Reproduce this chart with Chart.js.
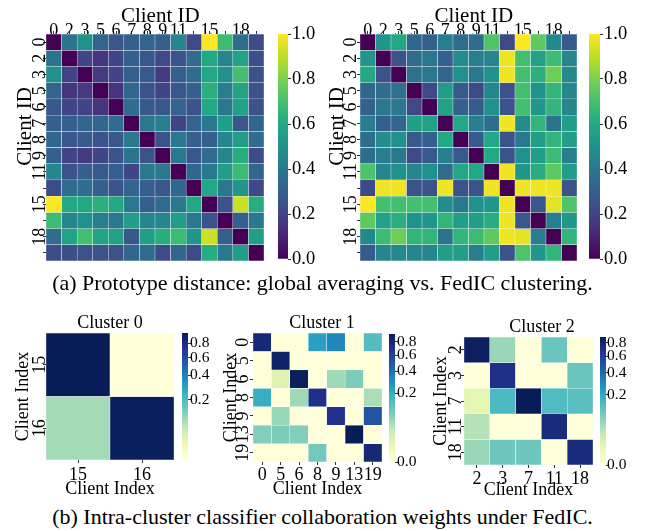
<!DOCTYPE html>
<html>
<head>
<meta charset="utf-8">
<script src="https://cdn.jsdelivr.net/npm/chart.js@4.4.0/dist/chart.umd.min.js"></script>
<style>
  body { margin: 0; background: #fff; }
  #fig { position: relative; width: 645px; height: 531px; overflow: hidden; background: #fff; font-family: 'Liberation Serif', serif; }
  canvas { position: absolute; }
  .cap { position: absolute; left: 0; width: 645px; text-align: center; font-size: 22px; line-height: 26px; white-space: nowrap; color: #000; }
</style>
</head>
<body>
<div id="fig">
  <canvas id="hmGlobal"></canvas>
  <canvas id="cbGlobal"></canvas>
  <canvas id="hmFedic"></canvas>
  <canvas id="cbFedic"></canvas>
  <canvas id="hmC0"></canvas>
  <canvas id="cbC0"></canvas>
  <canvas id="hmC1"></canvas>
  <canvas id="cbC1"></canvas>
  <canvas id="hmC2"></canvas>
  <canvas id="cbC2"></canvas>
  <div class="cap" style="top:270px">(a) Prototype distance: global averaging vs. FedIC clustering.</div>
  <div class="cap" style="top:504px">(b) Intra-cluster classifier collaboration weights under FedIC.</div>
</div>
<script>
// clients in the prototype distance maps (seaborn only printed some of the labels)
const clientIds = ['0', '2', '3', '5', '6', '7', '8', '9', '11', '13', '15', '16', '18', '19'];
const clientTicks = ['0', '2', '3', '5', '6', '7', '8', '9', '11', '', '15', '', '18', ''];

// (a) left: global averaging
const globalDist = [
  [0.00, 0.38, 0.50, 0.32, 0.27, 0.30, 0.32, 0.30, 0.46, 0.22, 1.00, 0.68, 0.35, 0.23],
  [0.38, 0.00, 0.20, 0.15, 0.20, 0.30, 0.27, 0.22, 0.25, 0.35, 0.60, 0.45, 0.58, 0.24],
  [0.50, 0.20, 0.00, 0.17, 0.20, 0.30, 0.28, 0.17, 0.30, 0.35, 0.60, 0.50, 0.70, 0.25],
  [0.32, 0.15, 0.17, 0.00, 0.15, 0.33, 0.25, 0.20, 0.27, 0.30, 0.63, 0.42, 0.58, 0.25],
  [0.27, 0.20, 0.20, 0.15, 0.00, 0.35, 0.27, 0.27, 0.32, 0.25, 0.60, 0.40, 0.57, 0.25],
  [0.30, 0.30, 0.32, 0.33, 0.35, 0.00, 0.40, 0.42, 0.20, 0.32, 0.40, 0.55, 0.27, 0.33],
  [0.33, 0.27, 0.28, 0.25, 0.27, 0.40, 0.00, 0.25, 0.40, 0.30, 0.30, 0.45, 0.55, 0.35],
  [0.30, 0.20, 0.17, 0.20, 0.25, 0.38, 0.25, 0.00, 0.40, 0.27, 0.35, 0.45, 0.62, 0.23],
  [0.46, 0.25, 0.30, 0.28, 0.30, 0.20, 0.40, 0.40, 0.00, 0.33, 0.40, 0.55, 0.68, 0.33],
  [0.23, 0.35, 0.35, 0.30, 0.25, 0.32, 0.30, 0.27, 0.33, 0.00, 0.60, 0.40, 0.52, 0.22],
  [1.00, 0.60, 0.60, 0.63, 0.60, 0.40, 0.30, 0.35, 0.40, 0.60, 0.00, 0.25, 0.92, 0.62],
  [0.68, 0.45, 0.50, 0.42, 0.40, 0.55, 0.45, 0.45, 0.55, 0.40, 0.25, 0.00, 0.30, 0.40],
  [0.35, 0.58, 0.70, 0.58, 0.57, 0.27, 0.55, 0.62, 0.68, 0.52, 0.92, 0.30, 0.00, 0.55],
  [0.23, 0.24, 0.25, 0.25, 0.25, 0.33, 0.35, 0.23, 0.33, 0.22, 0.62, 0.40, 0.55, 0.00]
];

// (a) right: FedIC clustering
const fedicDist = [
  [0.00, 0.52, 0.60, 0.33, 0.30, 0.42, 0.35, 0.35, 0.72, 0.22, 1.00, 0.75, 0.47, 0.28],
  [0.52, 0.00, 0.25, 0.35, 0.40, 0.30, 0.48, 0.42, 0.45, 0.98, 0.70, 0.57, 0.68, 0.45],
  [0.60, 0.25, 0.00, 0.37, 0.40, 0.32, 0.50, 0.40, 0.50, 0.98, 0.70, 0.63, 0.78, 0.47],
  [0.33, 0.35, 0.37, 0.00, 0.22, 0.55, 0.28, 0.22, 0.45, 0.25, 0.70, 0.50, 0.65, 0.45],
  [0.30, 0.40, 0.40, 0.22, 0.00, 0.57, 0.30, 0.28, 0.50, 0.25, 0.70, 0.52, 0.65, 0.45],
  [0.42, 0.30, 0.32, 0.55, 0.57, 0.00, 0.60, 0.42, 0.35, 0.98, 0.48, 0.65, 0.38, 0.55],
  [0.35, 0.48, 0.50, 0.28, 0.30, 0.60, 0.00, 0.28, 0.60, 0.25, 0.40, 0.55, 0.65, 0.55],
  [0.35, 0.42, 0.40, 0.22, 0.28, 0.42, 0.28, 0.00, 0.60, 0.25, 0.50, 0.55, 0.68, 0.42],
  [0.72, 0.45, 0.50, 0.45, 0.50, 0.35, 0.60, 0.60, 0.00, 0.98, 0.52, 0.62, 0.75, 0.55],
  [0.22, 0.98, 0.98, 0.25, 0.25, 0.98, 0.25, 0.25, 0.98, 0.00, 0.98, 0.98, 0.98, 0.25],
  [1.00, 0.70, 0.70, 0.70, 0.70, 0.48, 0.40, 0.50, 0.52, 0.98, 0.00, 0.27, 0.96, 0.72],
  [0.75, 0.57, 0.63, 0.50, 0.52, 0.65, 0.55, 0.55, 0.62, 0.98, 0.27, 0.00, 0.42, 0.52],
  [0.47, 0.68, 0.78, 0.65, 0.65, 0.38, 0.65, 0.68, 0.75, 0.98, 0.96, 0.42, 0.00, 0.65],
  [0.28, 0.45, 0.47, 0.45, 0.45, 0.55, 0.55, 0.42, 0.55, 0.25, 0.72, 0.52, 0.65, 0.00]
];

// (b) collaboration weights per cluster
const cluster0Ids = ['15', '16'];
const cluster0W = [
  [0.96, 0.005],
  [0.094, 0.94]
];
const cluster1Ids = ['0', '5', '6', '8', '9', '13', '19'];
const cluster1W = [
  [0.80, 0.00, 0.00, 0.24, 0.32, 0.00, 0.135],
  [0.00, 0.87, 0.00, 0.00, 0.00, 0.00, 0.00],
  [0.00, 0.011, 0.92, 0.00, 0.054, 0.084, 0.00],
  [0.19, 0.00, 0.054, 0.72, 0.00, 0.00, 0.046],
  [0.00, 0.059, 0.00, 0.00, 0.70, 0.00, 0.505],
  [0.078, 0.084, 0.078, 0.00, 0.00, 0.94, 0.00],
  [0.00, 0.00, 0.00, 0.095, 0.00, 0.00, 0.80]
];
const cluster2Ids = ['2', '3', '7', '11', '18'];
const cluster2W = [
  [0.86, 0.056, 0.00, 0.103, 0.00],
  [0.00, 0.69, 0.00, 0.00, 0.103],
  [0.008, 0.144, 0.90, 0.136, 0.122],
  [0.037, 0.00, 0.00, 0.75, 0.00],
  [0.056, 0.097, 0.097, 0.00, 0.75]
];

const distTicks = [0.0, 0.2, 0.4, 0.6, 0.8, 1.0];
const weightTicks = [0.0, 0.2, 0.4, 0.6, 0.8];

// colormaps
const VIRIDIS = ['#440154', '#482475', '#414487', '#355f8d', '#2a788e', '#21918c', '#22a884', '#44bf70', '#7ad151', '#bddf26', '#fde725'];
const YLGNBU = ['#ffffd9', '#edf8b1', '#c7e9b4', '#7fcdbb', '#41b6c4', '#1d91c0', '#225ea8', '#253494', '#081d58'];
const GAMMA = 0.4; // power norm of the weight maps

Chart.defaults.font.family = "'Liberation Serif', 'Times New Roman', serif";
Chart.defaults.color = '#000';

function hex2rgb(h) {
  return [parseInt(h.slice(1, 3), 16), parseInt(h.slice(3, 5), 16), parseInt(h.slice(5, 7), 16)];
}
function cmap(stops, f) {
  f = Math.min(1, Math.max(0, f));
  const p = f * (stops.length - 1);
  const i = Math.min(stops.length - 2, Math.floor(p));
  const a = hex2rgb(stops[i]), b = hex2rgb(stops[i + 1]);
  const k = p - i;
  const c = a.map((v, j) => Math.round(v + (b[j] - v) * k));
  return 'rgb(' + c.join(',') + ')';
}

function flat(m) { return m.reduce((a, r) => a.concat(r), []); }

function sizeCanvas(id, box, pad) {
  const cv = document.getElementById(id);
  const W = box.w + pad.l + pad.r, H = box.h + pad.t + pad.b;
  cv.width = W; cv.height = H;
  cv.style.left = (box.x - pad.l) + 'px';
  cv.style.top = (box.y - pad.t) + 'px';
  cv.style.width = W + 'px';
  cv.style.height = H + 'px';
  return cv;
}

function zeroPad(s) {
  s.paddingTop = 0; s.paddingBottom = 0; s.paddingLeft = 0; s.paddingRight = 0;
}

function heatmap(id, o) {
  const cv = sizeCanvas(id, o.box, o.pad);
  const n = o.ids.length;
  const datasets = o.values.map((row, i) => ({
    data: o.ids.map(() => [i, i + 1]),
    backgroundColor: row.map(v => o.color(v)),
    borderColor: o.lineColor,
    borderWidth: 0.5,
    borderSkipped: false,
    grouped: false,
    barPercentage: 1,
    categoryPercentage: 1
  }));
  const xTop = o.xPos === 'top';
  return new Chart(cv, {
    type: 'bar',
    data: { labels: o.ids, datasets: datasets },
    options: {
      responsive: false,
      animation: false,
      devicePixelRatio: 1,
      layout: { padding: { left: 0, right: o.pad.r, top: (xTop || o.title) ? 0 : o.pad.t, bottom: xTop ? o.pad.b : 0 } },
      plugins: {
        legend: { display: false },
        tooltip: { enabled: false },
        title: o.title ? {
          display: true, text: o.title, color: '#000', fullSize: false,
          font: { size: 18, lineHeight: 1, weight: 'normal' },
          padding: { top: 1, bottom: o.pad.t - 19 }
        } : { display: false }
      },
      scales: {
        x: {
          position: o.xPos,
          offset: true,
          grid: { display: true, drawOnChartArea: false, offset: false, tickLength: 3, color: '#333' },
          border: { display: false },
          ticks: {
            autoSkip: false, maxRotation: 0, minRotation: 0,
            padding: o.xTickPad,
            font: { size: o.tickSize, lineHeight: 1 },
            callback: (v, i) => o.xTicks[i]
          },
          title: {
            display: true, text: o.xTitle, color: '#000',
            font: { size: o.titleSize, lineHeight: 1 },
            padding: xTop ? { top: o.xTitlePad, bottom: 0 } : { top: 0, bottom: o.xTitlePad }
          },
          afterFit: s => { s.height = xTop ? o.pad.t : o.pad.b; zeroPad(s); }
        },
        y: {
          type: 'linear',
          min: 0, max: n, reverse: true,
          grid: { display: true, drawOnChartArea: false, tickLength: 3, color: '#333' },
          border: { display: false },
          afterBuildTicks: s => { s.ticks = o.ids.map((_, i) => ({ value: i + 0.5 })); },
          ticks: {
            autoSkip: false, minRotation: 90, maxRotation: 90, crossAlign: 'center',
            padding: o.yTickPad,
            font: { size: o.tickSize, lineHeight: 1 },
            callback: (v, i) => o.yTicks[i]
          },
          title: {
            display: true, text: o.yTitle, color: '#000',
            font: { size: o.titleSize, lineHeight: 1 },
            padding: { top: o.yTitlePad, bottom: 0 }
          },
          afterFit: s => { s.width = o.pad.l; zeroPad(s); }
        }
      }
    }
  });
}

function colorbar(id, o) {
  const cv = sizeCanvas(id, o.box, o.pad);
  const tmin = o.tf(o.vmin), tmax = o.tf(o.vmax);
  return new Chart(cv, {
    type: 'bar',
    data: {
      labels: [''],
      datasets: [{
        data: [[tmin, tmax]],
        backgroundColor: ctx => {
          const area = ctx.chart.chartArea;
          if (!area) return o.stops[0];
          const g = ctx.chart.ctx.createLinearGradient(0, area.bottom, 0, area.top);
          for (let k = 0; k <= 40; k++) g.addColorStop(k / 40, cmap(o.stops, k / 40));
          return g;
        },
        borderWidth: 0,
        barPercentage: 1,
        categoryPercentage: 1
      }]
    },
    options: {
      responsive: false,
      animation: false,
      devicePixelRatio: 1,
      layout: { padding: { left: 0, right: 0, top: o.pad.t, bottom: o.pad.b } },
      plugins: { legend: { display: false }, tooltip: { enabled: false } },
      scales: {
        x: { display: false },
        y: {
          position: 'right',
          min: tmin, max: tmax,
          grid: { display: true, drawOnChartArea: false, tickLength: 3, color: '#333' },
          border: { display: false },
          afterBuildTicks: s => {
            s.ticks = o.ticks.filter(v => v >= o.vmin - 1e-9 && v <= o.vmax + 1e-9).map(v => ({ value: o.tf(v) }));
          },
          ticks: {
            padding: o.tickPad,
            font: { size: o.fontSize, lineHeight: 1 },
            callback: v => o.inv(v).toFixed(1)
          },
          afterFit: s => { s.width = o.pad.r; zeroPad(s); }
        }
      }
    }
  });
}

// ---- (a) prototype distance maps ----
const lin = v => v, linInv = v => v;
function distColor(m) {
  const lo = Math.min(...flat(m)), hi = Math.max(...flat(m));
  return v => cmap(VIRIDIS, (v - lo) / (hi - lo));
}
// matplotlib put the labels a little off the axis centre, the leading spaces copy that
const topXTitle = '\u2002Client ID';
const topYTitle = '\u2003\u2003Client ID';

heatmap('hmGlobal', {
  box: { x: 46, y: 34, w: 218, h: 227 }, pad: { l: 46, t: 34, r: 4, b: 4 },
  ids: clientIds, xTicks: clientTicks, yTicks: clientTicks, values: globalDist,
  color: distColor(globalDist), lineColor: 'rgba(255,255,255,0.45)',
  xPos: 'top', xTitle: topXTitle, yTitle: topYTitle,
  tickSize: 18, titleSize: 21, xTickPad: -9, xTitlePad: 6, yTickPad: -6, yTitlePad: 15
});
colorbar('cbGlobal', {
  box: { x: 278, y: 34, w: 10, h: 225 }, pad: { l: 0, t: 12, r: 42, b: 12 },
  vmin: Math.min(...flat(globalDist)), vmax: Math.max(...flat(globalDist)),
  tf: lin, inv: linInv, ticks: distTicks, stops: VIRIDIS, fontSize: 18.5, tickPad: 1
});

heatmap('hmFedic', {
  box: { x: 360, y: 34, w: 217, h: 227 }, pad: { l: 40, t: 34, r: 4, b: 4 },
  ids: clientIds, xTicks: clientTicks, yTicks: clientTicks, values: fedicDist,
  color: distColor(fedicDist), lineColor: 'rgba(255,255,255,0.45)',
  xPos: 'top', xTitle: topXTitle, yTitle: topYTitle,
  tickSize: 18, titleSize: 21, xTickPad: -9, xTitlePad: 6, yTickPad: -3, yTitlePad: 7
});
colorbar('cbFedic', {
  box: { x: 589, y: 34, w: 11, h: 225 }, pad: { l: 0, t: 12, r: 45, b: 12 },
  vmin: Math.min(...flat(fedicDist)), vmax: Math.max(...flat(fedicDist)),
  tf: lin, inv: linInv, ticks: distTicks, stops: VIRIDIS, fontSize: 18.5, tickPad: 1
});

// ---- (b) collaboration weight maps (power norm) ----
const pw = v => Math.pow(v, GAMMA), pwInv = t => Math.pow(t, 1 / GAMMA);
function weightColor(m) {
  const lo = pw(Math.min(...flat(m))), hi = pw(Math.max(...flat(m)));
  return v => cmap(YLGNBU, (pw(v) - lo) / (hi - lo));
}
function weightMap(hmId, cbId, title, ids, w, hmBox, hmPad, cbBox, p) {
  heatmap(hmId, {
    box: hmBox, pad: hmPad, title: title,
    ids: ids, xTicks: ids, yTicks: ids, values: w,
    color: weightColor(w), lineColor: 'rgba(255,255,255,0.8)',
    xPos: 'bottom', xTitle: 'Client Index', yTitle: 'Client Index',
    tickSize: 18, titleSize: 18, xTickPad: p.xTick, xTitlePad: p.xTitle, yTickPad: p.yTick, yTitlePad: p.yTitle
  });
  colorbar(cbId, {
    box: cbBox, pad: { l: 0, t: 10, r: 32, b: 10 },
    vmin: Math.min(...flat(w)), vmax: Math.max(...flat(w)),
    tf: pw, inv: pwInv, ticks: weightTicks, stops: YLGNBU, fontSize: 15.5, tickPad: p.cb
  });
}

weightMap('hmC0', 'cbC0', 'Cluster 0', cluster0Ids, cluster0W,
  { x: 46, y: 333, w: 128, h: 127 }, { l: 46, t: 20, r: 4, b: 38 },
  { x: 182, y: 333, w: 6, h: 126 }, { xTick: 3.5, xTitle: 0, yTick: -6.5, yTitle: 14, cb: -1 });
weightMap('hmC1', 'cbC1', '\u2002Cluster 1', cluster1Ids, cluster1W,
  { x: 253, y: 333, w: 129, h: 129 }, { l: 38, t: 20, r: 4, b: 36 },
  { x: 389, y: 334, w: 6, h: 128 }, { xTick: 1.5, xTitle: 0, yTick: -2.5, yTitle: 7, cb: -1 });
weightMap('hmC2', 'cbC2', '\u2003\u2002Cluster 2', cluster2Ids, cluster2W,
  { x: 464, y: 337, w: 129, h: 128 }, { l: 34, t: 20, r: 4, b: 34 },
  { x: 600, y: 337, w: 6, h: 128 }, { xTick: 2, xTitle: 0, yTick: -4.5, yTitle: 2, cb: -2 });
</script>
</body>
</html>
